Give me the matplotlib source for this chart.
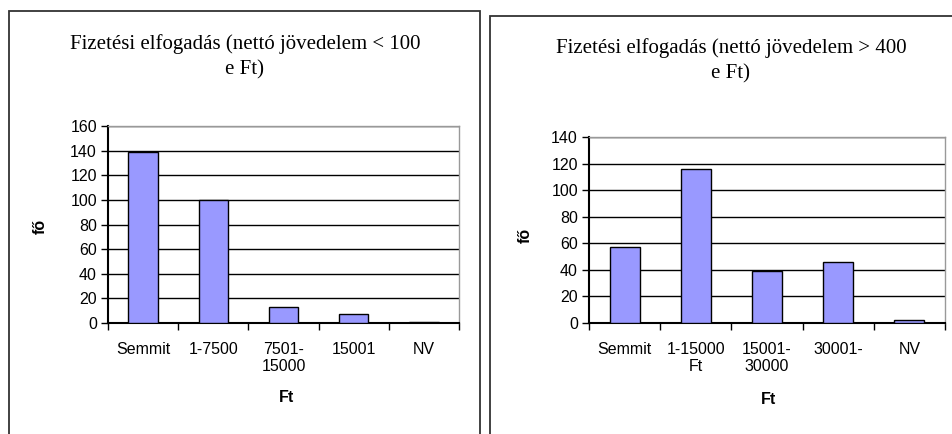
import numpy as np
import matplotlib.pyplot as plt
from matplotlib.patches import Rectangle

# Data
left_cats = ["Semmit", "1-7500", "7501-\n15000", "15001", "NV"]
left_vals = [139, 100, 13, 7, 1]
left_title = "Fizetési elfogadás (nettó jövedelem < 100\ne Ft)"

right_cats = ["Semmit", "1-15000\nFt", "15001-\n30000", "30001-", "NV"]
right_vals = [57, 116, 39, 46, 2]
right_title = "Fizetési elfogadás (nettó jövedelem > 400\ne Ft)"

W, H = 953, 434
fig = plt.figure(figsize=(W / 100, H / 100), dpi=100)
plt.rcParams['font.family'] = ['Liberation Sans', 'DejaVu Sans']


def px_rect(x0, y0, x1, y1):
    # pixel box (top-left origin) -> figure fraction
    return [x0 / W, 1 - y1 / H, (x1 - x0) / W, (y1 - y0) / H]


# Panel frames
for (x0, y0, x1) in [(9, 11, 480), (490, 16, 960)]:
    fig.patches.append(Rectangle((x0 / W, -0.05), (x1 - x0) / W, 1 - y0 / H + 0.05,
                                 transform=fig.transFigure, fill=False,
                                 edgecolor="#333333", linewidth=1.3))


def draw(box, cats, vals, ymax, title, title_xy, ylab_xy, xlab_xy):
    ax = fig.add_axes(px_rect(*box))
    x = np.arange(len(cats))
    ax.bar(x, vals, width=0.42, color="#9999FF", edgecolor="black", linewidth=1.0, zorder=3)
    ax.set_xlim(-0.5, len(cats) - 0.5)
    ax.set_ylim(0, ymax)
    ax.set_yticks(np.arange(0, ymax + 1, 20))
    ax.yaxis.grid(True, color="black", linewidth=1.0, zorder=0)
    ax.set_axisbelow(True)
    ax.set_xticks(x)
    ax.set_xticklabels(cats, fontsize=11.5, linespacing=1.1)
    ax.set_xticks(np.arange(-0.5, len(cats)), minor=True)
    ax.tick_params(axis="x", which="major", length=0, pad=14)
    ax.tick_params(axis="x", which="minor", length=5, width=1.0, direction="out")
    ax.tick_params(axis="y", length=5, width=1.0, labelsize=11.5, pad=3)
    for s in ["top", "right"]:
        ax.spines[s].set_color("#999999")
        ax.spines[s].set_linewidth(1.0)
    for s in ["left", "bottom"]:
        ax.spines[s].set_color("black")
        ax.spines[s].set_linewidth(1.5)
    fig.text(title_xy[0] / W, 1 - title_xy[1] / H, title, ha="center", va="center",
             fontsize=15, family="Liberation Serif", linespacing=1.4)
    fig.text(ylab_xy[0] / W, 1 - ylab_xy[1] / H, "fő", ha="center", va="center",
             rotation=90, fontsize=11.5, fontweight="bold")
    fig.text(xlab_xy[0] / W, 1 - xlab_xy[1] / H, "Ft", ha="center", va="center",
             fontsize=11.5, fontweight="bold")
    return ax


draw((108, 126, 459, 323), left_cats, left_vals, 160, left_title,
     (245, 57), (40, 226), (287, 397))
draw((589, 137, 945, 323), right_cats, right_vals, 140, right_title,
     (731, 61), (525, 235), (769, 400))

fig.savefig("out.png", dpi=100)
